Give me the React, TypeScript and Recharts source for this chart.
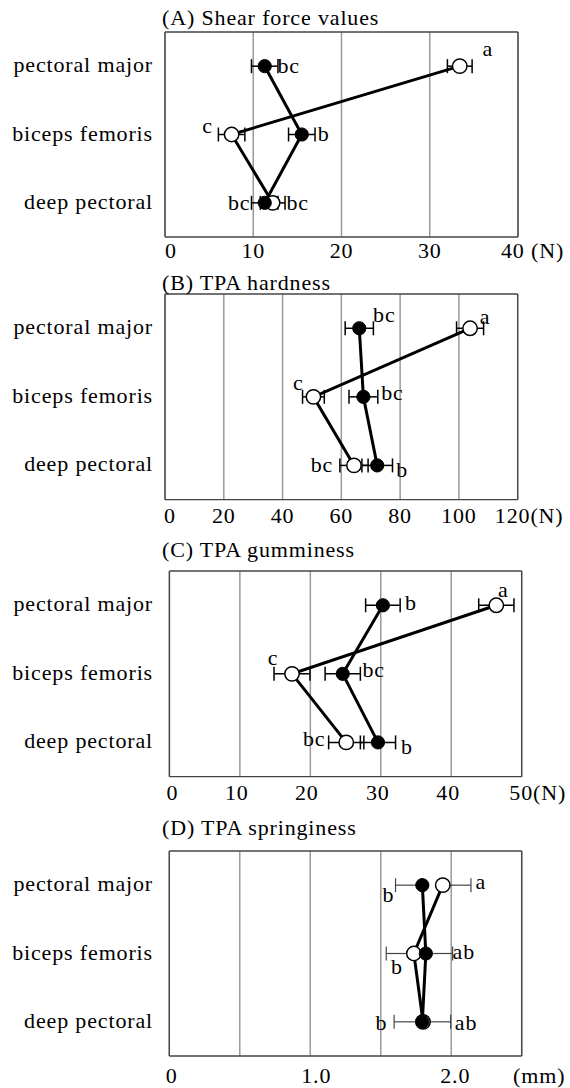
import React from 'react';
import {
  ComposedChart,
  Line,
  XAxis,
  YAxis,
  CartesianGrid,
  ErrorBar,
  LabelList,
} from 'recharts';

const FONT = '"Liberation Serif", "Times New Roman", serif';

// ---------- data ----------
const muscles = ['pectoral major', 'biceps femoris', 'deep pectoral'];

// (A) Shear force values
const shearTicks = [0, 10, 20, 30, 40];
const shearTickLabels = ['0', '10', '20', '30', '40 (N)'];
const shearFilled = [11.3, 15.5, 11.3];
const shearFilledErr = [1.5, 1.5, 1.5];
const shearFilledLetters = ['bc', 'b', 'bc'];
const shearOpen = [33.4, 7.55, 12.2];
const shearOpenErr = [1.4, 1.5, 1.4];
const shearOpenLetters = ['a', 'c', 'bc'];

// (B) TPA hardness
const hardTicks = [0, 20, 40, 60, 80, 100, 120];
const hardTickLabels = ['0', '20', '40', '60', '80', '100', '120(N)'];
const hardFilled = [66.1, 67.5, 72.2];
const hardFilledErr = [4.8, 4.9, 5.2];
const hardFilledLetters = ['bc', 'bc', 'b'];
const hardOpen = [103.8, 50.5, 64.3];
const hardOpenErr = [4.6, 3.7, 4.8];
const hardOpenLetters = ['a', 'c', 'bc'];

// (C) TPA gumminess
const gumTicks = [0, 10, 20, 30, 40, 50];
const gumTickLabels = ['0', '10', '20', '30', '40', '50(N)'];
const gumFilled = [30.3, 24.6, 29.6];
const gumFilledErr = [2.45, 2.5, 2.5];
const gumFilledLetters = ['b', 'bc', 'b'];
const gumOpen = [46.4, 17.4, 25.1];
const gumOpenErr = [2.5, 2.55, 2.5];
const gumOpenLetters = ['a', 'c', 'bc'];

// (D) TPA springiness  (errors: [lower, upper])
const springTicks = [0, 0.5, 1.0, 1.5, 2.0, 2.5];
const springTickLabels = ['0', '', '1.0', '', '2.0', '(mm)'];
const springFilled = [1.795, 1.82, 1.795];
const springFilledErr = [[0.19, 0], [0, 0.19], [0.2, 0]];
const springFilledLetters = ['b', 'ab', 'b'];
const springOpen = [1.94, 1.735, 1.8];
const springOpenErr = [[0, 0.2], [0.196, 0], [0, 0.196]];
const springOpenLetters = ['a', 'b', 'ab'];

const buildRows = (
  filled: number[],
  filledErr: any[],
  filledLetters: string[],
  open: number[],
  openErr: any[],
  openLetters: string[]
) =>
  muscles.map((m, i) => ({
    muscle: m,
    filled: filled[i],
    filledErr: filledErr[i],
    filledLetter: filledLetters[i],
    open: open[i],
    openErr: openErr[i],
    openLetter: openLetters[i],
  }));

// ---------- layout / style ----------
type Off = [number, number];
interface PanelCfg {
  title: string;
  titleBaseline: number;
  rows: any[];
  ticks: number[];
  tickLabels: string[];
  tickDx: number[];
  tickBaseline: number;
  box: { left: number; right: number; top: number; bottom: number };
  filledOff: Off[];
  openOff: Off[];
  errStroke: string;
  errWidth: number;
}

const panels: PanelCfg[] = [
  {
    title: '(A) Shear force values',
    titleBaseline: 25,
    rows: buildRows(shearFilled, shearFilledErr, shearFilledLetters, shearOpen, shearOpenErr, shearOpenLetters),
    ticks: shearTicks,
    tickLabels: shearTickLabels,
    tickDx: [6, 0, 0, 0, 14.5],
    tickBaseline: 21,
    box: { left: 165, right: 518, top: 32, bottom: 237 },
    filledOff: [[24, 7], [22, 6], [-25.5, 7]],
    openOff: [[28, -10], [-24, -2], [25, 7]],
    errStroke: '#000',
    errWidth: 1.5,
  },
  {
    title: '(B) TPA hardness',
    titleBaseline: 289.5,
    rows: buildRows(hardFilled, hardFilledErr, hardFilledLetters, hardOpen, hardOpenErr, hardOpenLetters),
    ticks: hardTicks,
    tickLabels: hardTickLabels,
    tickDx: [5, 0, 0, 0, 0, 0, 11.5],
    tickBaseline: 23,
    box: { left: 165, right: 517.7, top: 294.3, bottom: 500 },
    filledOff: [[25, -6], [29, 3], [25, 12]],
    openOff: [[15, -4], [-15, -7], [-32, 7]],
    errStroke: '#000',
    errWidth: 1.5,
  },
  {
    title: '(C) TPA gumminess',
    titleBaseline: 556.5,
    rows: buildRows(gumFilled, gumFilledErr, gumFilledLetters, gumOpen, gumOpenErr, gumOpenLetters),
    ticks: gumTicks,
    tickLabels: gumTickLabels,
    tickDx: [3, -3, -3.5, -3, -3, 16],
    tickBaseline: 23,
    box: { left: 169.4, right: 521.7, top: 571, bottom: 776.7 },
    filledOff: [[28, 5], [31, 3], [29, 12]],
    openOff: [[7, -8], [-19, -9], [-32, 4]],
    errStroke: '#000',
    errWidth: 1.5,
  },
  {
    title: '(D) TPA springiness',
    titleBaseline: 835,
    rows: buildRows(springFilled, springFilledErr, springFilledLetters, springOpen, springOpenErr, springOpenLetters),
    ticks: springTicks,
    tickLabels: springTickLabels,
    tickDx: [2.4, 0, 6, 0, 4, 17.5],
    tickBaseline: 27,
    box: { left: 169.3, right: 521.7, top: 850.7, bottom: 1055.7 },
    filledOff: [[-34, 17], [38, 5], [-41, 8]],
    openOff: [[38, 4], [-17, 20], [43, 8]],
    errStroke: '#444',
    errWidth: 1.2,
  },
];

const TEXT_PROPS = {
  fontFamily: FONT,
  fontSize: 22,
  letterSpacing: 0.85,
  fill: '#000',
};

const LABEL_RIGHT = 153;
const PAD_TOP = 10;
const XAXIS_H = 40;

const Panel = ({ cfg }: { cfg: PanelCfg }) => {
  const { box, ticks } = cfg;
  const plotH = box.bottom - box.top;
  const height = PAD_TOP + plotH + XAXIS_H;
  const domain: [number, number] = [ticks[0], ticks[ticks.length - 1]];
  const catPad = plotH / (2 * muscles.length);

  const xTick = (p: any) => {
    const i = ticks.indexOf(p.payload.value);
    const label = cfg.tickLabels[i] ?? '';
    if (!label) return <g />;
    return (
      <text
        x={p.x + (cfg.tickDx[i] || 0)}
        y={p.y + cfg.tickBaseline}
        textAnchor="middle"
        {...TEXT_PROPS}
      >
        {label}
      </text>
    );
  };

  const yTick = (p: any) => (
    <text x={p.x} y={p.y + 6} textAnchor="end" {...TEXT_PROPS}>
      {p.payload.value}
    </text>
  );

  const letterContent = (offs: Off[]) => (p: any) => {
    const o = offs[p.index] || [0, 0];
    return (
      <text
        x={Number(p.x) + o[0]}
        y={Number(p.y) + o[1]}
        textAnchor="middle"
        {...TEXT_PROPS}
      >
        {p.value}
      </text>
    );
  };

  return (
    <div style={{ position: 'absolute', left: 0, top: box.top - PAD_TOP }}>
      <ComposedChart
        width={570}
        height={height}
        data={cfg.rows}
        layout="vertical"
        margin={{ top: PAD_TOP, right: 570 - box.right, bottom: 0, left: 0 }}
      >
        {/* inner vertical grid */}
        <CartesianGrid horizontal={false} vertical stroke="#9a9a9a" strokeWidth={1.5} />
        {/* plot frame */}
        <CartesianGrid
          stroke="#444"
          strokeWidth={1.3}
          horizontalCoordinatesGenerator={({ offset }: any) => [offset.top, offset.top + offset.height]}
          verticalCoordinatesGenerator={({ offset }: any) => [offset.left, offset.left + offset.width]}
        />
        <XAxis
          type="number"
          domain={domain}
          ticks={ticks}
          interval={0}
          allowDataOverflow
          axisLine={false}
          tickLine={false}
          tickSize={0}
          tickMargin={0}
          height={XAXIS_H}
          tick={xTick}
        />
        <YAxis
          type="category"
          dataKey="muscle"
          width={box.left}
          axisLine={false}
          tickLine={false}
          tickSize={0}
          tickMargin={box.left - LABEL_RIGHT}
          interval={0}
          padding={{ top: catPad, bottom: catPad }}
          tick={yTick}
        />
        {/* connecting lines */}
        <Line dataKey="open" stroke="#000" strokeWidth={3} dot={false} activeDot={false} isAnimationActive={false} />
        <Line dataKey="filled" stroke="#000" strokeWidth={3} dot={false} activeDot={false} isAnimationActive={false} />
        {/* error bars */}
        <Line dataKey="open" stroke="none" dot={false} activeDot={false} isAnimationActive={false}>
          <ErrorBar dataKey="openErr" direction="x" width={7} stroke={cfg.errStroke} strokeWidth={cfg.errWidth} isAnimationActive={false} />
        </Line>
        <Line dataKey="filled" stroke="none" dot={false} activeDot={false} isAnimationActive={false}>
          <ErrorBar dataKey="filledErr" direction="x" width={7} stroke={cfg.errStroke} strokeWidth={cfg.errWidth} isAnimationActive={false} />
        </Line>
        {/* markers */}
        <Line
          dataKey="open"
          stroke="none"
          dot={{ r: 7.2, fill: '#fff', stroke: '#000', strokeWidth: 1.5 }}
          activeDot={false}
          isAnimationActive={false}
        >
          <LabelList dataKey="openLetter" content={letterContent(cfg.openOff)} />
        </Line>
        <Line
          dataKey="filled"
          stroke="none"
          dot={{ r: 6.6, fill: '#000', stroke: '#000', strokeWidth: 1 }}
          activeDot={false}
          isAnimationActive={false}
        >
          <LabelList dataKey="filledLetter" content={letterContent(cfg.filledOff)} />
        </Line>
      </ComposedChart>
    </div>
  );
};

export default function App() {
  return (
    <div style={{ position: 'absolute', left: 0, top: 0, width: 570, height: 1088, background: '#fff', overflow: 'hidden' }}>
      {panels.map((p) => (
        <Panel key={p.title} cfg={p} />
      ))}
      <svg
        width={570}
        height={1088}
        style={{ position: 'absolute', left: 0, top: 0, pointerEvents: 'none' }}
      >
        {panels.map((p) => (
          <text key={p.title} x={162} y={p.titleBaseline} {...TEXT_PROPS}>
            {p.title}
          </text>
        ))}
      </svg>
    </div>
  );
}
